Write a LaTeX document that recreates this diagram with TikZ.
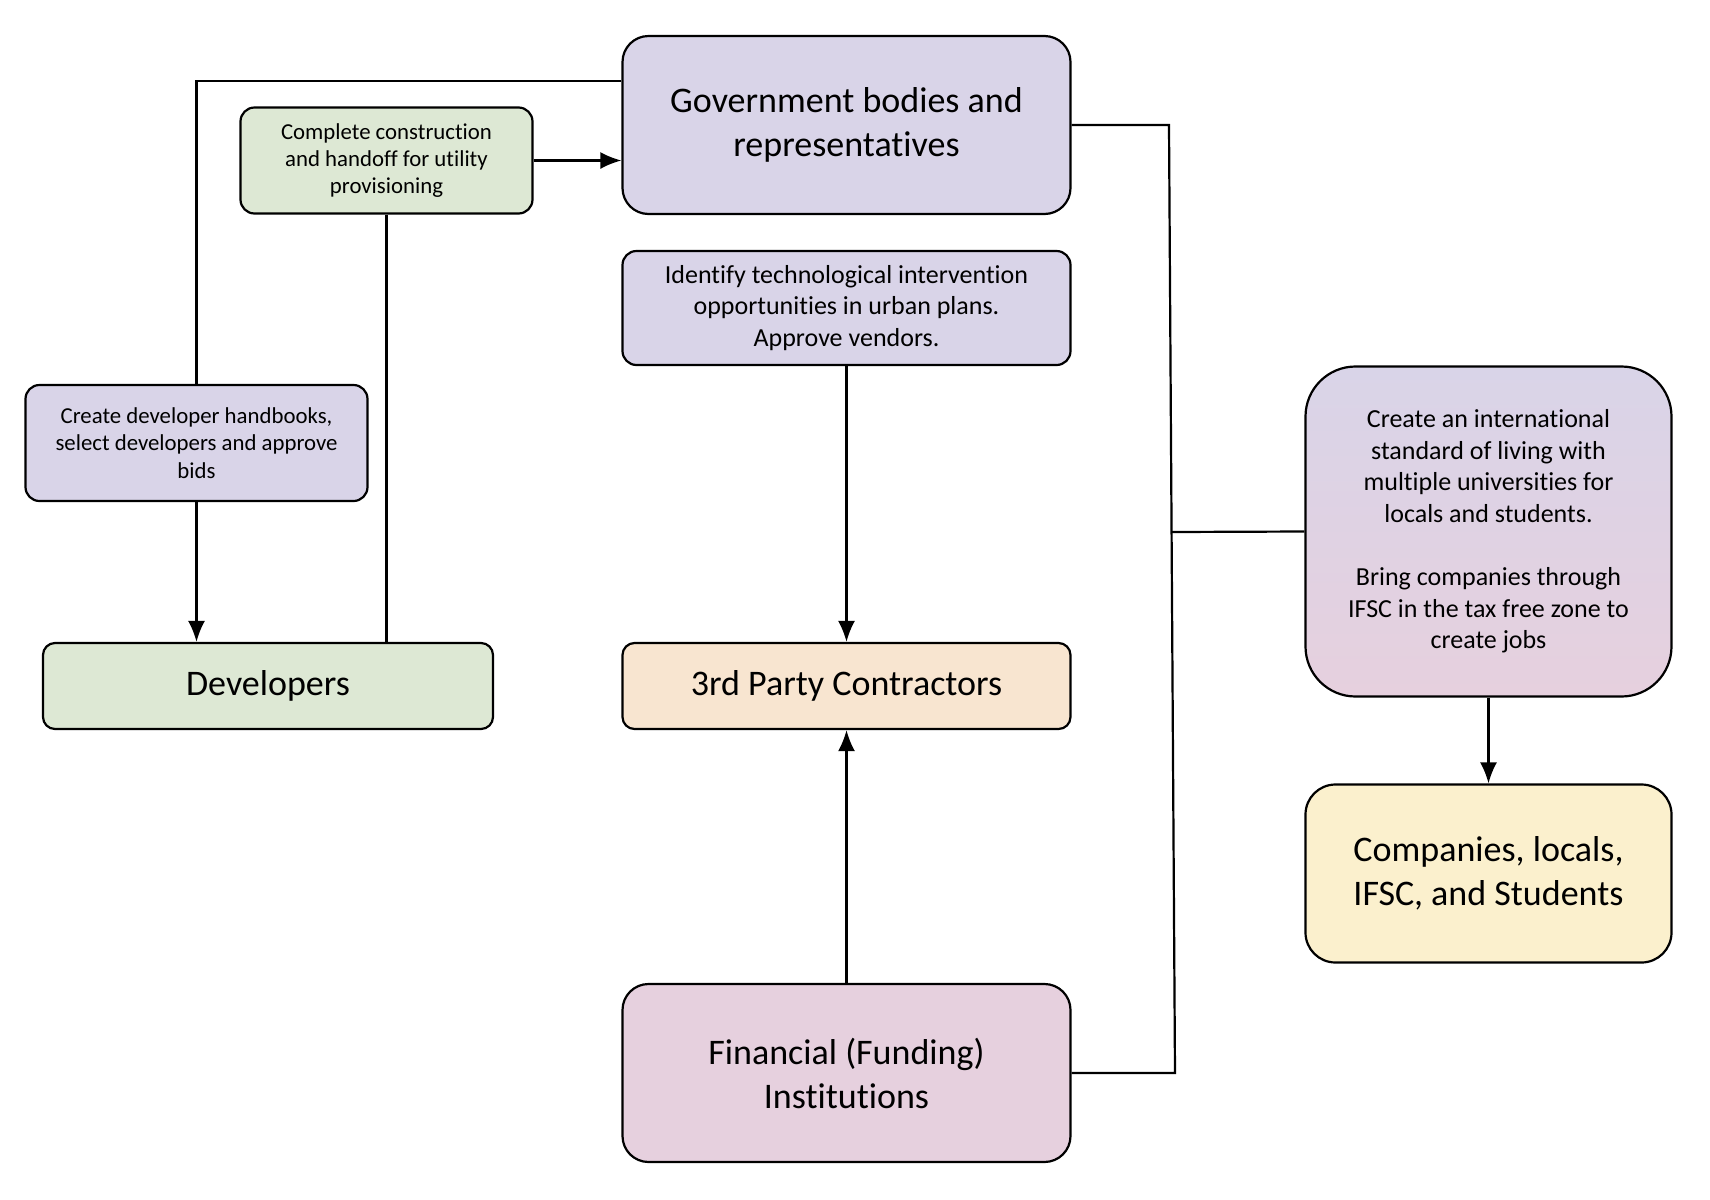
\documentclass[tikz,border=0pt]{standalone}
\usepackage{fontspec}
\setmainfont{Carlito}[Ligatures=NoCommon]
\usepackage{tikz}
\usetikzlibrary{arrows.meta}

\definecolor{lav}{HTML}{D9D4E8}
\definecolor{grn}{HTML}{DDE8D4}
\definecolor{pch}{HTML}{F8E5D0}
\definecolor{pnk}{HTML}{E6D0DE}
\definecolor{ylw}{HTML}{FBF0CD}

\begin{document}
\begin{tikzpicture}[x=0.5pt, y=-0.5pt, >={Latex[length=10.5pt,width=8.5pt]}, line width=1.1pt,
    box/.style={draw, rounded corners=7pt, align=center, inner sep=0pt},
    big/.style={box, font=\fontsize{18}{22}\selectfont, rounded corners=13pt},
    small/.style={box, font=\fontsize{11.4}{13.6}\selectfont},
    mid/.style={box, font=\fontsize{13}{15.8}\selectfont}]

    \useasboundingbox (0,0) rectangle (1710,1200);

    \node[big, fill=lav, minimum width=224pt, minimum height=89pt] (gov) at (846.5, 125) {Government bodies and\\representatives};
    \node[small, fill=grn, minimum width=146pt, minimum height=53pt] (cc) at (386.5, 160.5) {Complete construction\\and handoff for utility\\provisioning};
    \node[mid, fill=lav, minimum width=224pt, minimum height=57pt] (id) at (846.5, 308) {Identify technological intervention\\opportunities in urban plans.\\Approve vendors.};
    \node[small, fill=lav, minimum width=171pt, minimum height=58pt] (hb) at (196.5, 443) {Create developer handbooks,\\select developers and approve\\bids};
    \node[big, fill=grn, rounded corners=6pt, minimum width=225pt, minimum height=43pt] (dev) at (268, 686) {Developers};
    \node[big, fill=pch, rounded corners=6pt, minimum width=224pt, minimum height=43pt] (tp) at (846.5, 686) {3rd Party Contractors};
    \node[big, fill=pnk, minimum width=224pt, minimum height=89pt] (fi) at (846.5, 1073) {Financial (Funding)\\Institutions};
    \node[mid, top color=lav, bottom color=pnk, rounded corners=25pt, minimum width=183pt, minimum height=165pt] (intl) at (1488.5, 531.5) {Create an international\\standard of living with\\multiple universities for\\locals and students.\\[15.8pt]Bring companies through\\IFSC in the tax free zone to\\create jobs};
    \node[big, fill=ylw, rounded corners=15pt, minimum width=183pt, minimum height=89pt] (co) at (1488.5, 873.5) {Companies, locals,\\IFSC, and Students};

    \coordinate (b1) at (1169, 125);
    \coordinate (b2) at (1175, 1073);
    \coordinate (b3) at (1172, 532);

    \draw ([yshift=22pt]gov.west) -| (hb.north);
    \draw [->] (hb.south) -- (hb.south |- dev.north);
    \draw (cc.south) -- (cc.south |- dev.north);
    \draw [->] (cc.east) -- (cc.east -| gov.west);
    \draw [->] (id.south) -- (tp.north);
    \draw [->] (fi.north) -- (tp.south);
    \draw (gov.east) -- (b1) -- (b2) -- (fi.east);
    \draw (b3) -- (intl.west);
    \draw [->] (intl.south) -- (co.north);

\end{tikzpicture}
\end{document}
